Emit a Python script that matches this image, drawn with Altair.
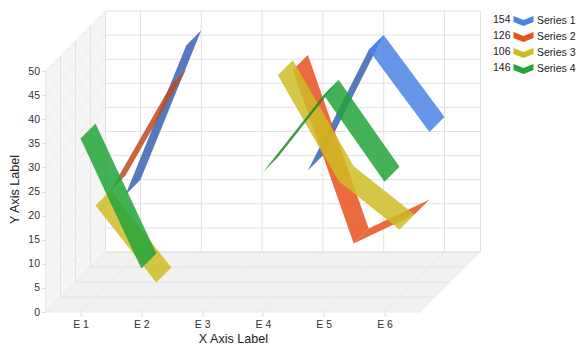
import altair as alt
import pandas as pd

categories = ["E 1", "E 2", "E 3", "E 4", "E 5", "E 6"]
series_names = ["Series 1", "Series 2", "Series 3", "Series 4"]
series_1 = [15, 46, None, 20, 45, 28]
series_2 = [19, 41, None, 44, 8, 14]
series_3 = [19, 3, None, 46, 24, 14]
series_4 = [36, 9, None, 29, 45, 27]
series_values = [series_1, series_2, series_3, series_4]
y_ticks = [0, 5, 10, 15, 20, 25, 30, 35, 40, 45, 50]

base_colors = ["#4a84e6", "#e8501e", "#cfbc24", "#22a43a"]
steep_colors = ["#3a63b4", "#c04a1e", "#b8a81e", "#1f8c24"]

PX_PER_CAT = 60.8
PX_PER_VAL = 4.82
DEPTH_PX = 15
PLOT_W = 435
PLOT_H = 302
LEFT = 45.5
TOP = 10.0
FIRST_CAT_PX = 80.5
dx = DEPTH_PX / PX_PER_CAT
dy = DEPTH_PX / PX_PER_VAL
xmin = 1 - (FIRST_CAT_PX - LEFT) / PX_PER_CAT
xmax = xmin + PLOT_W / PX_PER_CAT
ymax = PLOT_H / PX_PER_VAL
xright = xmin + 375 / PX_PER_CAT  # right end of front floor edge
ytop = 50.0


def project(c, v, d):
    return c + d * dx, v + d * dy


rows = []
for j, (name, vals) in enumerate(zip(series_names, series_values)):
    band = len(series_names) - 1 - j
    for i in range(len(vals) - 1):
        a, b = vals[i], vals[i + 1]
        if a is None or b is None:
            continue
        key = name if b - a < 10 else name + " steep"
        corners = [(i + 1, a, band), (i + 2, b, band), (i + 2, b, band + 1), (i + 1, a, band + 1)]
        for k, (c, v, d) in enumerate(corners):
            x, y = project(c, v, d)
            rows.append({"seg": f"{j}-{i}", "ord": k, "x": x, "y": y, "tone": key})
ribbons = pd.DataFrame(rows)

walls = []
for wid, shade, pts in [
    ("wall", "#f5f5f5", [(xmin, 0, 0), (xmin, ytop, 0), (xmin, ytop, 4), (xmin, 0, 4)]),
    ("floor", "#f1f1f1", [(xmin, 0, 0), (xright, 0, 0), (xright, 0, 4), (xmin, 0, 4)]),
]:
    for k, (c, v, d) in enumerate(pts):
        x, y = project(c, v, d)
        walls.append({"id": wid, "ord": k, "x": x, "y": y, "shade": shade})
walls = pd.DataFrame(walls)

grid = []


def add_line(gid, kind, pts):
    for k, (c, v, d) in enumerate(pts):
        x, y = project(c, v, d)
        grid.append({"id": gid, "ord": k, "x": x, "y": y, "kind": kind})


for v in y_ticks:
    add_line(f"back{v}", "main", [(xmin, v, 4), (xright, v, 4)])
    add_line(f"left{v}", "soft", [(xmin, v, 0), (xmin, v, 4)])
for d in range(1, 5):
    add_line(f"wv{d}", "main", [(xmin, 0, d), (xmin, ytop, d)])
    add_line(f"fh{d}", "main", [(xmin, 0, d), (xright, 0, d)])
add_line("wv0", "soft", [(xmin, 0, 0), (xmin, ytop, 0)])
add_line("fh0", "soft", [(xmin, 0, 0), (xright, 0, 0)])
add_line("right", "main", [(xright, 0, 4), (xright, ytop, 4)])
for c in range(1, 7):
    add_line(f"fd{c}", "soft", [(c, 0, 0), (c, 0, 4)])
    add_line(f"bv{c}", "main", [(c, 0, 4), (c, ytop, 4)])
grid = pd.DataFrame(grid)

totals = pd.DataFrame(
    {
        "total": [sum(v for v in vals if v is not None) for vals in series_values],
        "x": [xmin + (510.5 - LEFT) / PX_PER_CAT] * 4,
        "y": [ymax - (20 + 16 * r - TOP) / PX_PER_VAL for r in range(4)],
    }
)

FONT = "Liberation Sans"
xs = alt.Scale(domain=[xmin, xmax], nice=False, zero=False)
ys = alt.Scale(domain=[0, ymax], nice=False, zero=False)

x_axis = alt.Axis(
    values=list(range(1, 7)),
    labelExpr="'E ' + datum.value",
    grid=False,
    domain=False,
    ticks=True,
    tickColor="#dcdcdc",
    tickSize=4,
    labelFont=FONT,
    labelFontSize=10.5,
    labelColor="#333333",
    labelPadding=3,
    labelFlush=False,
    title="X Axis Label",
    titleFont=FONT,
    titleFontSize=12.6,
    titleFontWeight="normal",
    titleColor="#222222",
    titleX=187.5,
    titleY=26,
    titleBaseline="middle",
)
y_axis = alt.Axis(
    values=y_ticks,
    grid=False,
    domain=False,
    ticks=True,
    tickColor="#dcdcdc",
    tickSize=4,
    labelFont=FONT,
    labelFontSize=10.5,
    labelColor="#333333",
    labelPadding=2,
    title="Y Axis Label",
    titleFont=FONT,
    titleFontSize=12.6,
    titleFontWeight="normal",
    titleColor="#222222",
    titleX=-24,
    titleY=179,
)
X = alt.X("x:Q", scale=xs, axis=x_axis)
Y = alt.Y("y:Q", scale=ys, axis=y_axis)

wall_layer = (
    alt.Chart(walls)
    .mark_line(filled=True, strokeWidth=0)
    .encode(
        x=X,
        y=Y,
        fill=alt.Fill("shade:N", scale=None, legend=None),
        detail="id:N",
        order="ord:Q",
    )
)

grid_layer = (
    alt.Chart(grid)
    .mark_line(strokeWidth=1)
    .encode(
        x=X,
        y=Y,
        stroke=alt.Stroke(
            "kind:N",
            scale=alt.Scale(domain=["main", "soft"], range=["#e2e2e2", "#e9e9e9"]),
            legend=None,
        ),
        detail="id:N",
        order="ord:Q",
    )
)

tone_domain = series_names + [n + " steep" for n in series_names]
ribbon_layer = (
    alt.Chart(ribbons)
    .mark_line(filled=True, strokeWidth=0, opacity=0.85)
    .encode(
        x=X,
        y=Y,
        fill=alt.Fill(
            "tone:N",
            scale=alt.Scale(domain=tone_domain, range=base_colors + steep_colors),
            legend=alt.Legend(
                values=series_names,
                title=None,
                orient="none",
                legendX=471,
                legendY=4,
                symbolType="M-1.43,-0.7 L0,-0.15 L1.43,-0.7 L1.43,0.15 L0,0.7 L-1.43,0.15 Z",
                symbolSize=196,
                symbolOpacity=1,
                symbolStrokeWidth=0,
                labelFont=FONT,
                labelFontSize=10.5,
                labelColor="#222222",
                labelOffset=6.5,
                rowPadding=3,
                padding=0,
            ),
        ),
        detail="seg:N",
        order="ord:Q",
    )
)

count_layer = (
    alt.Chart(totals)
    .mark_text(font=FONT, fontSize=10.5, color="#222222", align="right", baseline="middle")
    .encode(x=X, y=Y, text="total:Q")
)

chart = (
    alt.layer(wall_layer, grid_layer, ribbon_layer, count_layer)
    .resolve_scale(fill="independent")
    .properties(
        width=PLOT_W,
        height=PLOT_H,
        autosize=alt.AutoSizeParams(type="none"),
        padding={"left": LEFT - 8, "top": TOP - 8, "right": 569 - (LEFT - 8) - PLOT_W, "bottom": 336 - (TOP - 8) - PLOT_H},
        background="white",
    )
    .configure_view(stroke=None)
)

chart.save("out.html", embed_options={"renderer": "svg", "actions": False})
